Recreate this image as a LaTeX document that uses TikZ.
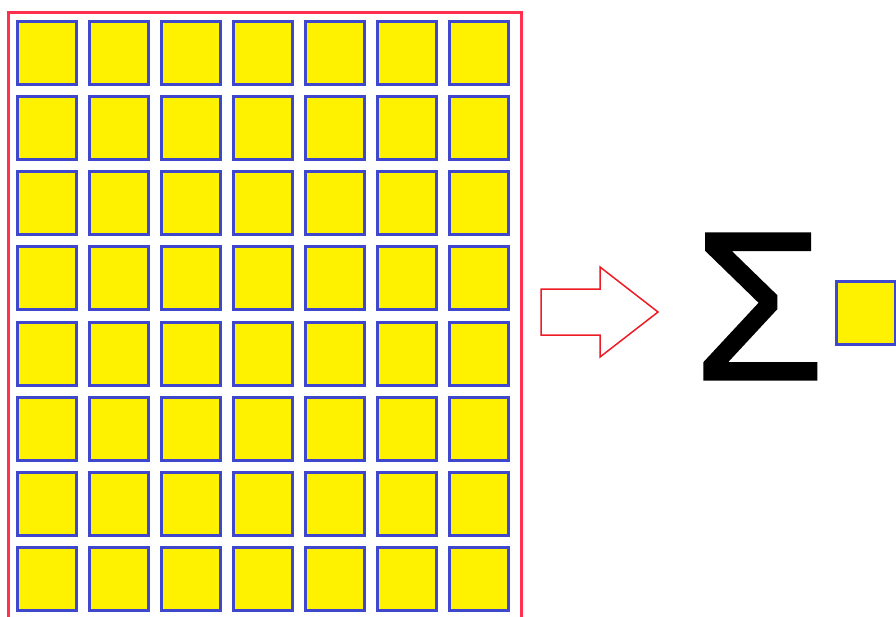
\documentclass[tikz,border=0pt]{standalone}
\usepackage{xcolor}
\usepackage{tikz}
\usepackage{fontspec}
\usetikzlibrary{positioning}
\newfontfamily\sigmafont{Liberation Sans}[FakeBold=1.2]
\definecolor{cellyellow}{RGB}{255,242,0}
\definecolor{cellblue}{RGB}{63,72,204}
\definecolor{framered}{RGB}{255,48,80}
\definecolor{arrowred}{RGB}{237,28,36}

\begin{document}
\begin{tikzpicture}[x=1pt, y=-1pt,
    cell/.style={draw=cellblue, fill=cellyellow, line width=3pt,
      minimum width=59pt, minimum height=63pt, inner sep=0pt},
    gridframe/.style={draw=framered, line width=3pt},
    bigarrow/.style={draw=arrowred, line width=1.5pt, line join=miter}]
  \clip (0,0) rectangle (896,616);
  % grid of cells
  \foreach \r in {0,...,7}
    \foreach \c in {0,...,6}
      \node[cell] (cell-\r-\c) at ({47+72*\c},{53+75.15*\r}) {};
  \draw[gridframe] (8.5,12) rectangle (521.5,630);
  % arrow
  \draw[bigarrow] (541,289) -- (600,289) -- (600,267) -- (658,312)
    -- (600,357) -- (600,335) -- (541,335) -- cycle;
  % sum
  \node[inner sep=0pt] (sum) at (759,306.5)
    {\sigmafont\fontsize{212}{212}\selectfont Σ};
  \node[cell] (result) at (866,313) {};
\end{tikzpicture}
\end{document}
